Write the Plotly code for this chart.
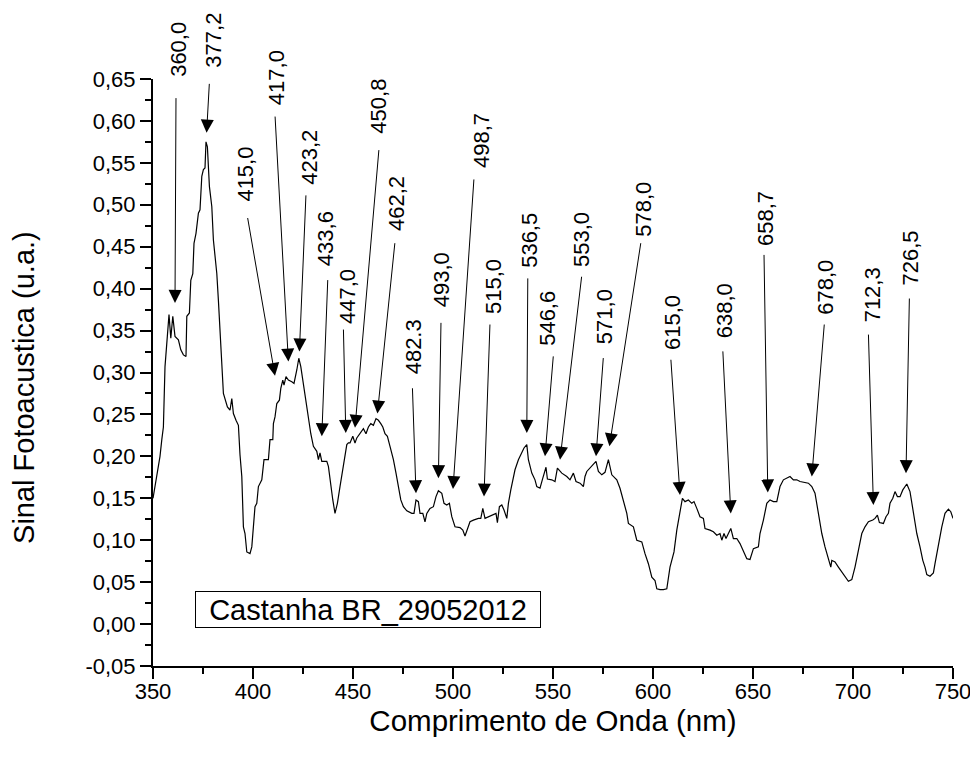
import plotly.graph_objects as go

# Spectrum (wavelength nm, photoacoustic signal a.u.)
wavelength = [350.0, 351.7, 353.5, 354.4, 355.2, 356.0, 356.9, 358.0, 358.9, 359.9, 361.0, 362.7, 363.9,
              365.2, 366.5, 366.9, 368.2, 368.9, 369.9, 370.5, 371.5, 372.7, 373.5, 374.4, 375.2, 376.0,
              376.5, 377.2, 378.2, 379.4, 380.2, 381.9, 382.7, 383.5, 384.4, 385.2, 387.2, 388.5, 389.4,
              390.2, 391.5, 392.7, 393.5, 394.4, 395.2, 396.0, 396.9, 398.5, 399.4, 400.2, 401.0, 401.9,
              402.7, 404.4, 405.5, 407.7, 408.5, 409.9, 410.2, 411.0, 411.9, 413.2, 413.9, 414.9, 415.5,
              416.5, 417.7, 419.4, 420.5, 421.9, 422.9, 423.9, 425.2, 426.0, 427.7, 428.9, 430.2, 431.9,
              432.7, 433.5, 434.4, 436.9, 437.7, 438.9, 439.9, 441.0, 442.2, 443.5, 445.2, 446.9, 447.7,
              448.5, 449.9, 451.0, 451.9, 453.5, 455.2, 456.5, 457.7, 458.9, 460.2, 461.5, 462.7, 463.9,
              464.9, 466.0, 467.2, 468.5, 470.2, 471.5, 472.7, 473.9, 475.2, 476.9, 479.4, 480.5, 481.5,
              482.7, 483.5, 484.9, 486.0, 486.9, 488.5, 490.2, 491.5, 492.7, 494.4, 495.5, 496.9, 498.2,
              499.4, 501.0, 503.5, 504.9, 506.0, 507.7, 508.5, 510.2, 512.7, 513.9, 514.9, 516.0, 517.7,
              520.2, 521.5, 522.2, 523.2, 524.4, 525.5, 526.9, 527.7, 528.9, 531.0, 532.7, 534.4, 535.5,
              536.9, 537.7, 539.4, 541.0, 541.9, 543.5, 544.9, 546.5, 547.2, 549.4, 551.0, 552.2, 554.4,
              556.9, 558.5, 560.2, 561.5, 563.5, 565.2, 566.0, 566.9, 568.5, 570.2, 571.5, 572.7, 574.4,
              576.0, 577.7, 579.4, 581.9, 583.5, 585.2, 586.9, 587.7, 590.2, 591.9, 594.4, 596.0, 597.7,
              599.4, 601.0, 601.9, 603.5, 605.2, 606.9, 608.5, 610.5, 611.9, 613.5, 614.7, 616.0, 617.7,
              619.4, 620.5, 621.9, 623.5, 625.2, 626.0, 628.5, 630.2, 631.9, 633.5, 634.4, 635.5, 636.5,
              637.7, 638.9, 640.2, 641.9, 643.5, 645.2, 646.9, 648.5, 650.2, 652.7, 653.5, 655.2, 656.9,
              658.5, 660.2, 661.9, 663.5, 665.2, 666.9, 668.5, 670.2, 671.9, 673.5, 676.0, 677.7, 679.4,
              681.0, 682.7, 684.4, 686.0, 687.7, 688.9, 689.4, 691.0, 692.7, 694.4, 696.0, 697.7, 699.4,
              701.0, 702.7, 704.4, 706.0, 707.7, 709.9, 711.0, 712.2, 713.2, 715.2, 716.5, 717.7, 718.5,
              719.9, 721.0, 722.2, 723.5, 724.9, 726.9, 728.5, 730.2, 731.9, 733.5, 734.9, 736.0, 736.9,
              738.5, 740.2, 741.0, 742.7, 744.4, 746.0, 747.7, 748.9, 750.0]
signal = [0.150, 0.174, 0.200, 0.220, 0.235, 0.307, 0.331, 0.369, 0.341, 0.367, 0.343, 0.339, 0.327,
          0.321, 0.319, 0.367, 0.371, 0.410, 0.418, 0.454, 0.466, 0.490, 0.494, 0.534, 0.542, 0.544,
          0.575, 0.569, 0.522, 0.498, 0.458, 0.418, 0.386, 0.347, 0.311, 0.275, 0.259, 0.255, 0.269,
          0.251, 0.243, 0.237, 0.202, 0.176, 0.116, 0.108, 0.086, 0.084, 0.092, 0.116, 0.140, 0.144,
          0.164, 0.172, 0.196, 0.196, 0.220, 0.220, 0.239, 0.247, 0.263, 0.267, 0.281, 0.291, 0.285,
          0.295, 0.291, 0.289, 0.287, 0.303, 0.317, 0.307, 0.287, 0.271, 0.243, 0.227, 0.212, 0.206,
          0.196, 0.204, 0.194, 0.194, 0.188, 0.164, 0.148, 0.132, 0.144, 0.164, 0.188, 0.214, 0.216,
          0.216, 0.224, 0.216, 0.222, 0.227, 0.233, 0.227, 0.235, 0.239, 0.237, 0.245, 0.243, 0.239,
          0.235, 0.227, 0.224, 0.212, 0.196, 0.180, 0.164, 0.148, 0.140, 0.135, 0.132, 0.132, 0.148,
          0.146, 0.132, 0.132, 0.122, 0.132, 0.138, 0.140, 0.152, 0.159, 0.156, 0.144, 0.142, 0.144,
          0.128, 0.116, 0.115, 0.112, 0.105, 0.115, 0.122, 0.124, 0.126, 0.126, 0.138, 0.126, 0.128,
          0.130, 0.132, 0.121, 0.140, 0.142, 0.136, 0.126, 0.144, 0.160, 0.184, 0.196, 0.204, 0.210,
          0.214, 0.196, 0.180, 0.172, 0.164, 0.162, 0.174, 0.187, 0.173, 0.172, 0.170, 0.186, 0.180,
          0.176, 0.172, 0.180, 0.170, 0.168, 0.164, 0.176, 0.182, 0.186, 0.190, 0.194, 0.182, 0.178,
          0.181, 0.196, 0.178, 0.172, 0.162, 0.148, 0.132, 0.120, 0.116, 0.100, 0.098, 0.084, 0.072,
          0.056, 0.052, 0.042, 0.041, 0.041, 0.042, 0.068, 0.086, 0.112, 0.136, 0.150, 0.146, 0.148,
          0.144, 0.146, 0.138, 0.128, 0.126, 0.114, 0.112, 0.110, 0.106, 0.108, 0.100, 0.108, 0.102,
          0.108, 0.114, 0.102, 0.102, 0.096, 0.086, 0.078, 0.077, 0.090, 0.092, 0.108, 0.124, 0.144,
          0.148, 0.146, 0.146, 0.164, 0.172, 0.174, 0.176, 0.172, 0.172, 0.170, 0.169, 0.168, 0.164,
          0.156, 0.132, 0.108, 0.092, 0.078, 0.068, 0.076, 0.074, 0.068, 0.062, 0.056, 0.051, 0.053,
          0.068, 0.088, 0.108, 0.116, 0.122, 0.124, 0.126, 0.130, 0.121, 0.120, 0.128, 0.132, 0.144,
          0.150, 0.158, 0.152, 0.152, 0.160, 0.167, 0.158, 0.132, 0.108, 0.092, 0.076, 0.068, 0.059,
          0.057, 0.061, 0.072, 0.096, 0.116, 0.132, 0.137, 0.134, 0.126]

# Peak labels: text, label centre (x, y), arrow tail (x, y), arrow tip (x, y)
peak_labels = ["360,0", "377,2", "417,0", "415,0", "423,2", "433,6", "447,0", "450,8", "462,2",
               "482.3", "493,0", "498,7", "515,0", "536,5", "546,6", "553,0", "571,0", "578,0",
               "615,0", "638,0", "658,7", "678,0", "712,3", "726,5"]
label_x = [362.6, 380.1, 411.5, 396.5, 428.5, 436.0, 447.0, 463.0, 472.0, 480.0, 494.0, 514.0,
           520.5, 538.5, 547.5, 564.0, 575.5, 595.5, 609.5, 635.5, 656.0, 686.5, 709.5, 728.5]
label_y = [0.685, 0.696, 0.651, 0.536, 0.556, 0.459, 0.390, 0.617, 0.501, 0.330, 0.410, 0.576,
           0.402, 0.457, 0.364, 0.458, 0.366, 0.494, 0.359, 0.373, 0.483, 0.401, 0.392, 0.436]
tail_x = [361.5, 378.2, 411.0, 397.2, 426.5, 437.4, 445.2, 463.0, 471.0, 479.7, 494.0, 510.5,
          518.5, 537.4, 550.2, 564.4, 575.2, 594.0, 608.9, 634.9, 655.5, 685.7, 707.7, 728.2]
tail_y = [0.629, 0.646, 0.607, 0.486, 0.513, 0.412, 0.353, 0.567, 0.456, 0.283, 0.361, 0.532,
          0.359, 0.414, 0.321, 0.416, 0.319, 0.456, 0.317, 0.327, 0.442, 0.359, 0.347, 0.390]
tip_x = [361.0, 376.8, 417.7, 411.0, 423.2, 434.4, 446.4, 451.0, 462.2, 481.5, 492.7, 500.0,
         515.5, 536.9, 546.0, 553.5, 571.5, 578.2, 613.5, 638.9, 657.4, 679.4, 710.2, 726.5]
tip_y = [0.383, 0.586, 0.313, 0.296, 0.325, 0.224, 0.228, 0.234, 0.251, 0.156, 0.174, 0.161,
         0.152, 0.228, 0.200, 0.196, 0.200, 0.212, 0.154, 0.132, 0.157, 0.176, 0.142, 0.180]

legend_text = "Castanha BR_29052012"
legend_x, legend_y = 457.7, 0.017

x_title = "Comprimento de Onda (nm)"
y_title = "Sinal Fotoacustica (u.a.)"

x_ticks = [350, 400, 450, 500, 550, 600, 650, 700, 750]
y_ticks = [-0.05, 0.0, 0.05, 0.10, 0.15, 0.20, 0.25, 0.30, 0.35, 0.40, 0.45, 0.50, 0.55, 0.60, 0.65]
y_ticktext = ["-0,05", "0,00", "0,05", "0,10", "0,15", "0,20", "0,25", "0,30", "0,35", "0,40",
              "0,45", "0,50", "0,55", "0,60", "0,65"]
X_RANGE = [350, 750]
Y_RANGE = [-0.05, 0.65]

FONT = "Arial, Liberation Sans, sans-serif"

fig = go.Figure()
fig.add_trace(go.Scatter(x=wavelength, y=signal, mode="lines",
                         line=dict(color="black", width=1.2), showlegend=False, hoverinfo="skip"))


def to_paper_y(v):
    return (v - Y_RANGE[0]) / (Y_RANGE[1] - Y_RANGE[0])


annotations = []
for t, lx, ly, ax_, ay_, px, py in zip(peak_labels, label_x, label_y, tail_x, tail_y, tip_x, tip_y):
    annotations.append(dict(x=px, y=py, ax=ax_, ay=ay_, xref="x", yref="y", axref="x", ayref="y",
                            text="", showarrow=True, arrowhead=2, arrowsize=2.6, arrowwidth=1,
                            arrowcolor="black", standoff=0))
    annotations.append(dict(x=lx, y=to_paper_y(ly), xref="x", yref="paper", text=t, showarrow=False,
                            xanchor="center", yanchor="middle", textangle=-90,
                            font=dict(family=FONT, size=22, color="black")))
annotations.append(dict(x=legend_x, y=legend_y, xref="x", yref="y", text=legend_text, showarrow=False,
                        xanchor="center", yanchor="middle",
                        font=dict(family=FONT, size=29, color="black"), bordercolor="black",
                        borderwidth=1, borderpad=1, width=342, height=33, align="center"))
# y-axis title (placed slightly below the axis centre, as in the original)
annotations.append(dict(x=-0.161, y=0.474, xref="paper", yref="paper", text=y_title, showarrow=False,
                        xanchor="center", yanchor="middle", textangle=-90,
                        font=dict(family=FONT, size=29, color="black")))

fig.update_layout(
    width=978, height=761,
    margin=dict(l=145, r=33, t=71, b=103),
    plot_bgcolor="white", paper_bgcolor="white",
    separators=",.",
    font=dict(family=FONT, color="black"),
    annotations=annotations,
    xaxis=dict(range=X_RANGE, tickvals=x_ticks, ticks="outside", ticklen=11, tickwidth=2,
               tickcolor="black", showline=True, linewidth=2, linecolor="black", showgrid=False,
               zeroline=False, tickfont=dict(size=22, family=FONT), ticklabelstandoff=-6,
               minor=dict(dtick=25, ticks="outside", ticklen=6, tickwidth=2, tickcolor="black"),
               title=dict(text=x_title, font=dict(size=29.5, family=FONT), standoff=4),
               automargin=False),
    yaxis=dict(range=Y_RANGE, tickvals=y_ticks, ticktext=y_ticktext, ticks="outside", ticklen=11,
               tickwidth=2, tickcolor="black", showline=True, linewidth=2, linecolor="black",
               showgrid=False, zeroline=False, tickfont=dict(size=22, family=FONT),
               minor=dict(dtick=0.025, ticks="outside", ticklen=6, tickwidth=2, tickcolor="black"),
               automargin=False),
)

fig.write_html("out.html")
